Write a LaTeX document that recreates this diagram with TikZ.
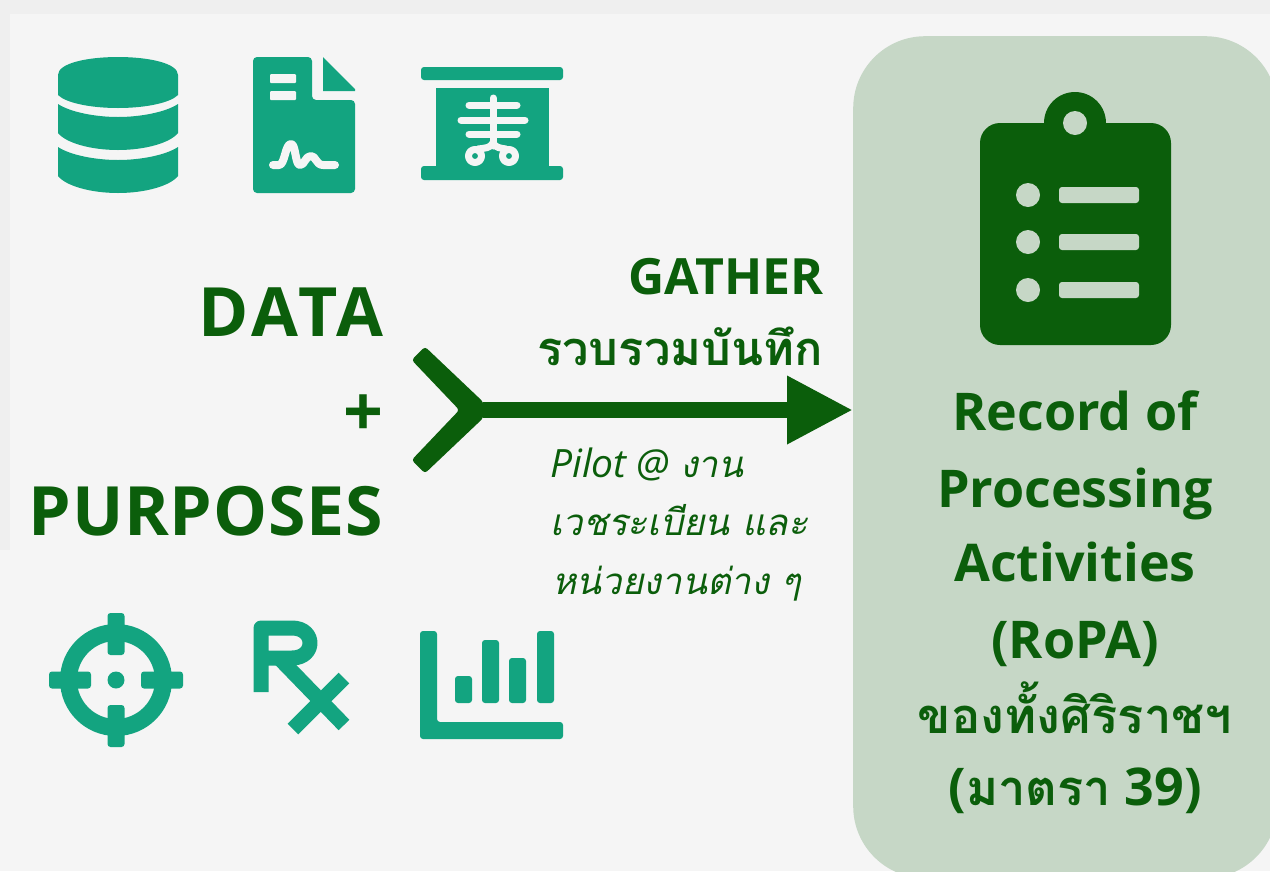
\documentclass[tikz,border=0pt]{standalone}
\usepackage{fontspec}
\setmainfont{Open Sans}
\newfontfamily\thaifont[Script=Thai,Scale=0.94]{Loma}
\usetikzlibrary{arrows.meta}
\definecolor{pagegrey}{HTML}{F5F5F5}
\definecolor{stripgrey}{HTML}{EFEFEF}
\definecolor{boxgreen}{HTML}{C6D7C6}
\definecolor{darkgreen}{HTML}{0B5E0B}
\definecolor{iconteal}{HTML}{13A480}
\tikzset{
  bigtext/.style={text=darkgreen,font=\bfseries\fontsize{68}{68}\selectfont,anchor=base east,inner sep=0pt},
  gathertext/.style={text=darkgreen,font=\bfseries\fontsize{50}{50}\selectfont,anchor=base east,inner sep=0pt},
  boxtext/.style={text=darkgreen,font=\bfseries\fontsize{52}{52}\selectfont,anchor=base,inner sep=0pt},
  pilottext/.style={text=darkgreen,font=\itshape\fontsize{39}{39}\selectfont,anchor=base west,inner sep=0pt},
  iconcut/.style={draw=pagegrey,line cap=round,line join=round},
  iconbar/.style={fill=iconteal,rounded corners=3}
}
\begin{document}
\begin{tikzpicture}[x=1pt,y=-1pt]
\useasboundingbox (0,0) rectangle (1270,871);
\clip (0,0) rectangle (1270,871);
%page
\fill[stripgrey] (0,0) rectangle (1270,871);
\fill[pagegrey] (10,14) rectangle (1270,871);
\fill[pagegrey] (0,550) rectangle (10,871);
%box
\node[fill=boxgreen,rounded corners=72,minimum width=424pt,minimum height=842pt,inner sep=0pt,anchor=north west] (ropabox) at (853,36) {};
%database
\fill[iconteal] (58,75) .. controls (58,63) and (88,57) .. (118,57) .. controls (148,57) and (178,63) .. (178,75) -- (178,95) .. controls (170,103) and (145,108) .. (118,108) .. controls (91,108) and (66,103) .. (58,95) -- cycle;
\foreach \y in {0,43}{\fill[iconteal] (58,104+\y) .. controls (70,112+\y) and (95,117+\y) .. (118,117+\y) .. controls (141,117+\y) and (166,112+\y) .. (178,104+\y) -- (178,133+\y) .. controls (170,143+\y) and (145,150+\y) .. (118,150+\y) .. controls (91,150+\y) and (66,143+\y) .. (58,133+\y) -- cycle;}
%document
\fill[iconteal,rounded corners=4] (253,57) -- (312,57) -- (312,100) -- (355,100) -- (355,193) -- (253,193) -- cycle;
\fill[iconteal] (323,57) -- (355,89) -- (355,91) -- (323,91) -- cycle;
\foreach \y in {74,91}{\fill[pagegrey,rounded corners=1] (270,\y) rectangle (296,\y+9);}
\draw[iconcut,line width=8pt] (273,165) -- (279,165) .. controls (285,165) and (285,144) .. (291,144) .. controls (296,144) and (295,165) .. (300,165) .. controls (305,165) and (305,156) .. (311,156) .. controls (316,156) and (316,165) .. (323,165) -- (335,165);
%xray
\fill[iconbar] (421,67) rectangle (563,80);
\fill[iconteal] (436,88) rectangle (549,170);
\fill[iconbar] (421,166) rectangle (563,180);
\draw[iconcut,line width=7pt] (493,98) -- (493,146);
\draw[iconcut,line width=7pt] (469,105) -- (517,105);
\draw[iconcut,line width=7pt] (461,120) -- (525,120);
\draw[iconcut,line width=7pt] (469,134) -- (517,134);
\foreach \x in {475,509}{\draw[iconcut,line width=7pt] (\x,156) circle (6.5);}
\draw[iconcut,line width=7pt] (478,149) .. controls (486,148) and (490,148) .. (493,143) .. controls (496,148) and (500,148) .. (506,149);
%target
\draw[iconteal,line width=17pt] (116,680) circle (47.5);
\fill[iconteal] (116,680) circle (8.5);
\foreach \a in {0,90,180,270}{\fill[iconbar,rotate around={\a:(116,680)}] (49,671.5) rectangle (91,688.5);}
%rx
\draw[iconteal,line width=15pt,line join=round] (261,692) -- (261,628) -- (292,628) .. controls (316,628) and (316,658) .. (292,658) -- (264,658);
\draw[iconteal,line width=15pt] (280,659) -- (344,725);
\draw[iconteal,line width=15pt] (344,678) -- (293,729);
%chart
\fill[iconbar] (420,631) -- (437,631) -- (437,722) -- (563,722) -- (563,739) -- (420,739) -- cycle;
\foreach \x/\y in {455/676,482/640,509/658,537/631}{\fill[iconbar] (\x,\y) rectangle (\x+17,703);}
%clipboard
\fill[darkgreen,rounded corners=20] (980,123) rectangle (1171,345);
\fill[darkgreen] (1075,123) circle (31);
\fill[boxgreen] (1075,123) circle (12);
\foreach \y in {195,242,290}{
  \fill[boxgreen] (1028,\y) circle (12);
  \fill[boxgreen,rounded corners=3] (1059,\y-8) rectangle (1139,\y+8);
}
%labels
\node[bigtext] (data) at (384,336) {\addfontfeature{LetterSpace=6}DATA};
\node[bigtext,font=\bfseries\fontsize{70}{70}\selectfont] (plus) at (384,436) {+};
\node[bigtext] (purposes) at (383,535) {\addfontfeature{LetterSpace=1.1}PURPOSES};
\node[gathertext] (gather) at (824,294) {GATHER};
\node[gathertext] (gatherth) at (823,365) {\thaifont รวบรวมบันทึก};
\node[pilottext] (pilot) at (550,477) {Pilot @ {\thaifont งาน}};
\node[pilottext] (pilotb) at (550,535) {\thaifont เวชระเบียน และ};
\node[pilottext] (pilotc) at (552,594) {\thaifont หน่วยงานต่าง ๆ};
%box text
\node[boxtext] (record) at (1075,430) {Record of};
\node[boxtext] (processing) at (1075,507) {Processing};
\node[boxtext] (activities) at (1075,581) {Activities};
\node[boxtext] (ropa) at (1075,658) {(RoPA)};
\node[boxtext] (siriraj) at (1075,733) {\thaifont ของทั้งศิริราชฯ};
\node[boxtext] (section) at (1075,805) {({\thaifont มาตรา} 39)};
%arrow
\coordinate (fork) at (483,410);
\fill[darkgreen,rounded corners=3] (411.7,360) -- (425,346.7) -- (483.3,402) -- (483.3,418) -- (425,473.3) -- (411.7,460) -- (459.3,410) -- cycle;
\draw[darkgreen,line width=16pt,-{Triangle[length=66pt,width=64pt]}] (fork) -- (fork -| ropabox.west);
\end{tikzpicture}
\end{document}
